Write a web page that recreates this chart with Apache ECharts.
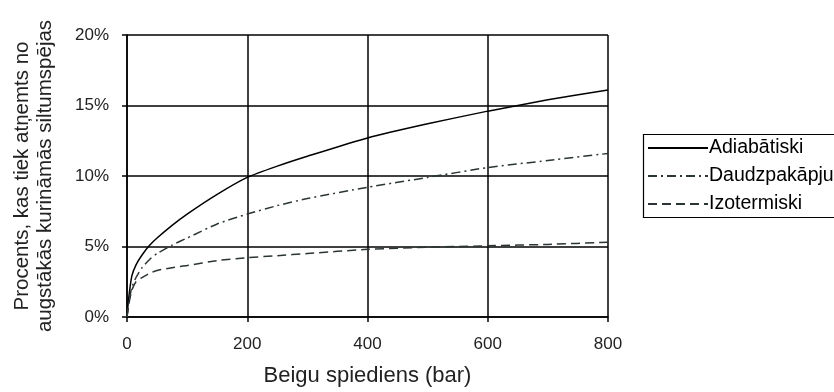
<!DOCTYPE html>
<html>
<head>
<meta charset="utf-8">
<script src="https://cdn.jsdelivr.net/npm/echarts@6/dist/echarts.min.js"></script>
<style>
html,body{margin:0;padding:0;background:#fff;}
#chart{width:834px;height:392px;}
</style>
</head>
<body>
<div id="chart"></div>
<script>
var pressure = [0, 3, 8, 15, 25, 38, 50, 75, 100, 150, 200, 250, 300, 400, 500, 600, 700, 800];
var adiabatic = [0, 1.4, 2.9, 3.7, 4.4, 5.1, 5.6, 6.5, 7.3, 8.7, 9.9, 10.7, 11.4, 12.7, 13.7, 14.6, 15.4, 16.1];
var multistage = [0, 1.0, 2.1, 2.8, 3.5, 4.1, 4.5, 5.1, 5.6, 6.6, 7.3, 7.9, 8.4, 9.2, 9.9, 10.6, 11.1, 11.6];
var isothermal = [0, 0.9, 1.9, 2.5, 2.8, 3.1, 3.3, 3.5, 3.65, 4.0, 4.2, 4.35, 4.5, 4.8, 4.95, 5.05, 5.15, 5.3];
var seriesNames = ['Adiabātiski', 'Daudzpakāpju', 'Izotermiski'];
var xTitle = 'Beigu spiediens (bar)';
var yTitle = 'Procents, kas tiek atņemts no\naugstākās kurināmās siltumspējas';

function pairs(ys){ return pressure.map(function(p,i){ return [p, ys[i]]; }); }

var font = 'Liberation Sans, Arial, sans-serif';
var chart = echarts.init(document.getElementById('chart'));
chart.setOption({
  animation: false,
  backgroundColor: '#fff',
  grid: {left: 127, right: 226, top: 35, bottom: 74},
  xAxis: {
    type: 'value', min: 0, max: 800, interval: 200,
    axisLine: {show: true, lineStyle: {color: '#000', width: 1.5}},
    axisTick: {show: true, length: 5, inside: false, lineStyle: {color: '#000', width: 1.5}},
    axisLabel: {color: '#222', fontFamily: font, fontSize: 17, margin: 19},
    splitLine: {show: true, lineStyle: {color: '#000', width: 1.5}},
    name: xTitle, nameLocation: 'middle', nameGap: 48,
    nameTextStyle: {color: '#222', fontFamily: font, fontSize: 22}
  },
  yAxis: {
    type: 'value', min: 0, max: 20, interval: 5,
    axisLine: {show: true, lineStyle: {color: '#000', width: 1.5}},
    axisTick: {show: true, length: 5, lineStyle: {color: '#000', width: 1.5}},
    axisLabel: {color: '#222', fontFamily: font, fontSize: 17, margin: 18, formatter: '{value}%'},
    splitLine: {show: true, lineStyle: {color: '#000', width: 1.5}}
  },
  graphic: [
    {type: 'text', x: 34, y: 176, rotation: Math.PI/2,
     style: {text: yTitle, fill: '#222', font: '20.5px Liberation Sans, Arial, sans-serif',
             textAlign: 'center', textVerticalAlign: 'middle', lineHeight: 23}},
    {type: 'rect', shape: {x: 643.5, y: 134.5, width: 200, height: 83},
     style: {fill: 'none', stroke: '#000', lineWidth: 1.2}, z: 10}
  ],
  legend: {
    orient: 'vertical', left: 647, top: 138, itemWidth: 60, itemHeight: 14, itemGap: 8,
    padding: 0,
    itemStyle: {opacity: 0},
    textStyle: {color: '#000', fontFamily: font, fontSize: 19.5, padding: [0,0,0,-4]},
    data: seriesNames
  },
  series: [
    {name: seriesNames[0], type: 'line', data: pairs(adiabatic), symbol: 'none', smooth: 0.2,
     lineStyle: {color: '#000', width: 1.5, type: 'solid'}, itemStyle: {color: '#000'}},
    {name: seriesNames[1], type: 'line', data: pairs(multistage), symbol: 'none', smooth: 0.2,
     lineStyle: {color: '#2b3535', width: 1.5, type: [9, 4, 2, 4]}, itemStyle: {color: '#2b3535'}},
    {name: seriesNames[2], type: 'line', data: pairs(isothermal), symbol: 'none', smooth: 0.2,
     lineStyle: {color: '#2b3535', width: 1.5, type: [9, 5]}, itemStyle: {color: '#2b3535'}}
  ]
});
</script>
</body>
</html>
